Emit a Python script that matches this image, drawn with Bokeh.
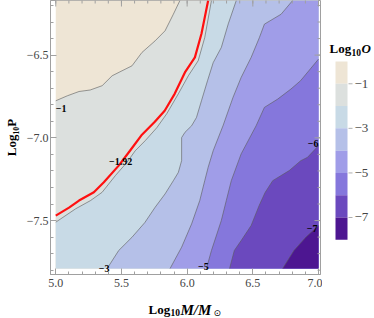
import numpy as np
from bokeh.plotting import figure
from bokeh.models import Range1d, FixedTicker
from bokeh.layouts import row, column
from bokeh.embed import file_html
from bokeh.resources import INLINE
from bokeh.core.properties import value

# ---------------- data ----------------
x_ticks = [5.0, 5.5, 6.0, 6.5, 7.0]
x_tick_labels = ["5.0", "5.5", "6.0", "6.5", "7.0"]
y_ticks = [-6.5, -7.0, -7.5]
y_tick_labels = ["\u22126.5", "\u22127.0", "\u22127.5"]

x_min, x_max = 5.0, 7.0
y_min, y_max = -7.79, -6.17

# colour bands: above -1, -1..-2, ..., below -7
cb_edges = [0, -1, -2, -3, -4, -5, -6, -7, -8]
band_colors = ["#EEE5D5", "#DCE0DE", "#C8DAE6", "#B5C0E8",
               "#A09DE8", "#8577DC", "#6B49BE", "#4D1691"]
cb_tick_values = [-1, -3, -5, -7]
cb_tick_labels = ["\u22121", "\u22123", "\u22125", "\u22127"]

# contour lines (log10 M, log10 P)
c1_x = [5.945, 5.895, 5.832, 5.756, 5.656, 5.580, 5.504, 5.429, 5.353, 5.262, 5.177, 5.088, 5.0]
c1_y = [-6.17, -6.253, -6.353, -6.414, -6.484, -6.565, -6.595, -6.625, -6.685, -6.711, -6.720, -6.746, -6.776]

red_x = [6.160, 6.109, 6.059, 5.983, 5.905, 5.829, 5.754, 5.656, 5.565, 5.479, 5.366, 5.290, 5.177, 5.101, 5.0]
red_y = [-6.17, -6.371, -6.514, -6.605, -6.734, -6.836, -6.903, -6.981, -7.078, -7.168, -7.269, -7.329, -7.379, -7.422, -7.470]

c2_x = [6.185, 6.134, 6.084, 6.009, 5.933, 5.845, 5.769, 5.681, 5.605, 5.542, 5.454, 5.353, 5.265, 5.151, 5.0]
c2_y = [-6.17, -6.394, -6.534, -6.625, -6.734, -6.854, -6.939, -7.017, -7.078, -7.148, -7.228, -7.329, -7.379, -7.429, -7.510]

c3_x = [6.374, 6.313, 6.260, 6.198, 6.155, 6.109, 6.071, 6.034, 5.983, 5.958, 5.958, 5.933, 5.895, 5.832, 5.756, 5.678, 5.580, 5.479, 5.391]
c3_y = [-6.17, -6.311, -6.454, -6.546, -6.655, -6.776, -6.877, -6.927, -6.967, -6.999, -7.138, -7.209, -7.259, -7.339, -7.420, -7.512, -7.601, -7.681, -7.79]

c4_x = [6.803, 6.715, 6.588, 6.550, 6.487, 6.411, 6.349, 6.273, 6.198, 6.160, 6.134, 6.096, 6.034, 5.958, 5.870]
c4_y = [-6.17, -6.253, -6.313, -6.394, -6.514, -6.635, -6.756, -6.927, -7.078, -7.178, -7.259, -7.379, -7.520, -7.661, -7.79]

c5_x = [7.0, 6.863, 6.790, 6.689, 6.588, 6.525, 6.411, 6.336, 6.298, 6.260, 6.185, 6.147]
c5_y = [-6.524, -6.655, -6.705, -6.766, -6.816, -6.927, -7.097, -7.259, -7.379, -7.500, -7.681, -7.79]

c6_x = [7.0, 6.916, 6.865, 6.777, 6.651, 6.593, 6.548, 6.487, 6.411, 6.359, 6.323]
c6_y = [-7.047, -7.118, -7.138, -7.198, -7.259, -7.331, -7.409, -7.530, -7.621, -7.681, -7.79]

c7_x = [7.0, 6.903, 6.813, 6.727]
c7_y = [-7.530, -7.601, -7.681, -7.79]

contours = [(c1_x, c1_y), (c2_x, c2_y), (c3_x, c3_y), (c4_x, c4_y),
            (c5_x, c5_y), (c6_x, c6_y), (c7_x, c7_y)]

# ---------------- helpers ----------------
W = x_max - x_min
H = y_max - y_min
P = 2 * W + 2 * H
eps = 1e-6


def perim(x, y):
    if abs(y - y_min) < eps:
        return x - x_min
    if abs(x - x_max) < eps:
        return W + (y - y_min)
    if abs(y - y_max) < eps:
        return W + H + (x_max - x)
    return 2 * W + H + (y_max - y)


corners = [(0.0, (x_min, y_min)), (W, (x_max, y_min)),
           (W + H, (x_max, y_max)), (2 * W + H, (x_min, y_max))]


def region_below(xs, ys):
    t_s = perim(xs[0], ys[0])
    t_e = perim(xs[-1], ys[-1])
    target = t_s if t_s > t_e else t_s + P
    px, py = list(xs), list(ys)
    for k in range(2):
        for ct, (cx, cy) in corners:
            ct2 = ct + k * P
            if t_e < ct2 < target:
                px.append(cx)
                py.append(cy)
    return px, py


# ---------------- main figure ----------------
FONT = "Liberation Serif"
AX_COL = "#a0a0a0"
LAB_COL = "#444444"

xr = Range1d(4.96, 7.015)
yr = Range1d(-7.826, -6.17)
p = figure(width=322, height=292, output_backend="svg", toolbar_location=None,
           x_range=xr, y_range=yr,
           min_border_left=48, min_border_right=2, min_border_top=0,
           min_border_bottom=18)
p.grid.visible = False
p.outline_line_color = AX_COL
p.outline_line_width = 1
p.background_fill_color = "white"
p.border_fill_color = "white"

# background band (above -1)
p.quad(left=[x_min], right=[x_max], bottom=[y_min], top=[y_max],
       fill_color=band_colors[0], line_color=None)
for i, (cx, cy) in enumerate(contours):
    rx, ry = region_below(cx, cy)
    p.patch(rx, ry, fill_color=band_colors[i + 1], line_color=None)

for cx, cy in contours:
    p.line(cx, cy, line_color="#5a5a5a", line_alpha=0.75, line_width=0.8)
p.line(red_x, red_y, line_color="#ff1010", line_width=2.2)

# contour labels (attached to contour points)
lab_kw = dict(text_font=value(FONT), text_font_size="10px", text_font_style="bold",
              text_baseline="middle", text_color="black")
p.text(x=[c1_x[-1]], y=[c1_y[-1]], text=["\u22121"], text_align="left",
       x_offset=0, y_offset=8, **lab_kw)
p.text(x=[red_x[9]], y=[red_y[9]], text=["\u22121.92"], text_align="center",
       x_offset=2, y_offset=-4, **lab_kw)
p.text(x=[c3_x[-1]], y=[c3_y[-1]], text=["\u22123"], text_align="center",
       x_offset=-3, y_offset=0, **lab_kw)
p.text(x=[c5_x[-1]], y=[c5_y[-1]], text=["\u22125"], text_align="center",
       x_offset=-3, y_offset=-2, **lab_kw)
p.text(x=[c6_x[0]], y=[c6_y[0]], text=["\u22126"], text_align="right",
       x_offset=0, y_offset=-2, **lab_kw)
p.text(x=[c7_x[0]], y=[c7_y[0]], text=["\u22127"], text_align="right",
       x_offset=-1, y_offset=3, **lab_kw)

x_minor = [float(v) for v in np.round(np.arange(4.9, 7.11, 0.1), 2)]
y_minor = [float(v) for v in np.round(np.arange(-7.9, -6.05, 0.1), 2)]

# inward ticks on the top and right frame edges (half of each dash is clipped)
p.scatter(x=x_ticks, y=[yr.end] * len(x_ticks), marker="dash", size=12,
          angle=np.pi / 2, line_color=AX_COL, line_width=1)
p.scatter(x=x_minor, y=[yr.end] * len(x_minor), marker="dash", size=6,
          angle=np.pi / 2, line_color=AX_COL, line_width=1)
p.scatter(x=[xr.end] * len(y_ticks), y=y_ticks, marker="dash", size=12,
          line_color=AX_COL, line_width=1)
p.scatter(x=[xr.end] * len(y_minor), y=y_minor, marker="dash", size=6,
          line_color=AX_COL, line_width=1)


def style_axis(ax):
    ax.axis_line_color = AX_COL
    ax.major_tick_line_color = AX_COL
    ax.minor_tick_line_color = AX_COL
    ax.major_tick_in = 6
    ax.major_tick_out = 0
    ax.minor_tick_in = 3
    ax.minor_tick_out = 0
    ax.major_label_text_font = FONT
    ax.major_label_text_color = LAB_COL
    ax.major_label_text_font_size = "12px"


p.xaxis.ticker = FixedTicker(ticks=x_ticks, minor_ticks=x_minor)
p.yaxis.ticker = FixedTicker(ticks=y_ticks, minor_ticks=y_minor)
p.xaxis.major_label_overrides = {t: s for t, s in zip(x_ticks, x_tick_labels)}
p.yaxis.major_label_overrides = {t: s for t, s in zip(y_ticks, y_tick_labels)}
style_axis(p.xaxis[0])
style_axis(p.yaxis[0])
p.xaxis.major_label_standoff = 4
p.yaxis.major_label_standoff = 2

p.yaxis[0].axis_label = "Log\u2081\u2080P"
p.yaxis[0].axis_label_text_font = FONT
p.yaxis[0].axis_label_text_font_style = "bold"
p.yaxis[0].axis_label_text_font_size = "13px"
p.yaxis[0].axis_label_text_color = "black"
p.yaxis[0].axis_label_standoff = 5

# ---------------- colour bar figure ----------------
cb = figure(width=52, height=292, output_backend="svg", toolbar_location=None,
            x_range=Range1d(0, 52), y_range=Range1d(-9.558, 2.737),
            x_axis_type=None, y_axis_type=None, min_border=0)
cb.grid.visible = False
cb.outline_line_color = None
cb.border_fill_color = "white"
cb.background_fill_color = "white"

cb.quad(left=13, right=25, top=cb_edges[:-1], bottom=cb_edges[1:],
        fill_color=band_colors, line_color=None)
cb.segment(x0=26, x1=30, y0=cb_tick_values, y1=cb_tick_values,
           line_color="#b0b0b0", line_width=1)
cb.text(x=32, y=cb_tick_values, text=cb_tick_labels, text_font=value(FONT),
        text_font_size="13px", text_color=LAB_COL, text_baseline="middle",
        text_align="left")
ty = 0.589
tkw = dict(text_font=value(FONT), text_color="black", text_baseline="alphabetic")
cb.text(x=[7], y=[ty], text=["Log"], text_font_size="13px",
        text_font_style="bold", **tkw)
cb.text(x=[7], y=[ty], x_offset=22, y_offset=4, text=["10"],
        text_font_size="9.5px", text_font_style="bold", **tkw)
cb.text(x=[7], y=[ty], x_offset=32, text=["O"], text_font_size="13px",
        text_font_style="bold italic", **tkw)

# ---------------- x axis label strip ----------------
xl = figure(width=374, height=26, output_backend="svg", toolbar_location=None,
            x_range=Range1d(0, 374), y_range=Range1d(0, 26),
            x_axis_type=None, y_axis_type=None, min_border=0)
xl.grid.visible = False
xl.outline_line_color = None
xl.border_fill_color = "white"
xl.background_fill_color = "white"
lx, ly = 148, 9
xl.text(x=[lx], y=[ly], text=["Log"], text_font_size="13px",
        text_font_style="bold", **tkw)
xl.text(x=[lx], y=[ly], x_offset=22, y_offset=3, text=["10"],
        text_font_size="9.5px", text_font_style="bold", **tkw)
xl.text(x=[lx], y=[ly], x_offset=32, text=["M/M"], text_font_size="15px",
        text_font_style="bold italic", **tkw)
xl.text(x=[lx], y=[ly], x_offset=65, y_offset=3, text=["\u2299"],
        text_font=value("DejaVu Sans"), text_font_size="9px",
        text_color="black", text_baseline="alphabetic")

layout = column(row(p, cb), xl)
open("out.html", "w").write(file_html(layout, INLINE))
